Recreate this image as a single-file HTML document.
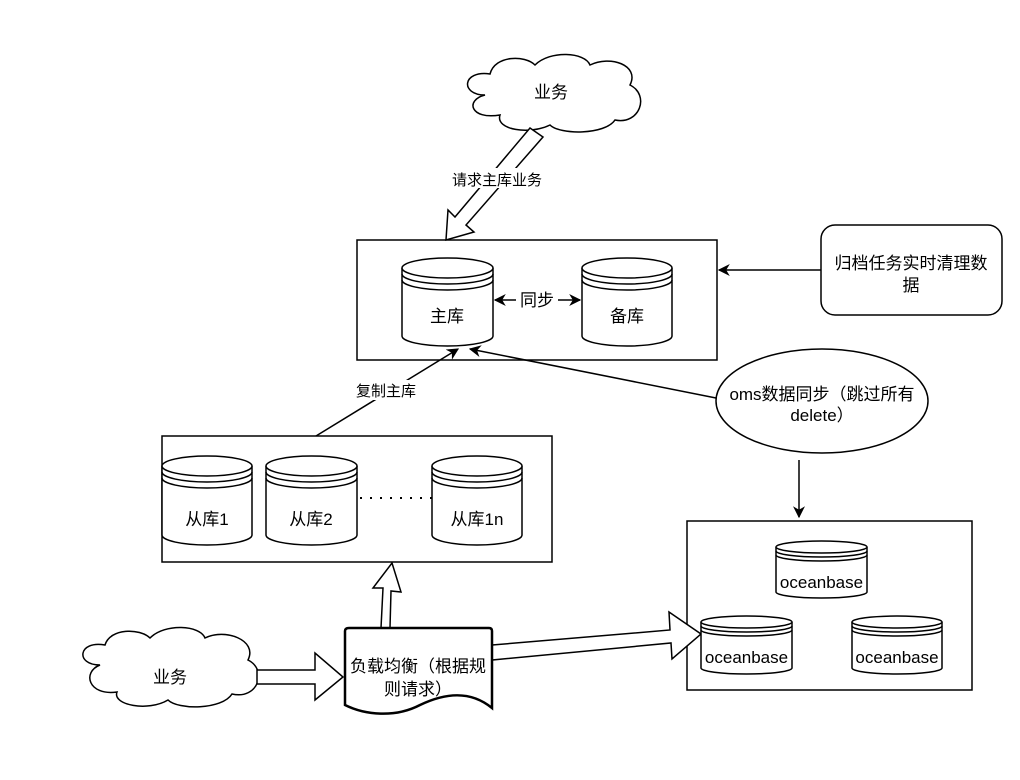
<!DOCTYPE html>
<html><head><meta charset="utf-8"><style>
html,body{margin:0;padding:0;background:#fff;}
svg{display:block;}
text{font-family:"Liberation Sans","Noto Sans CJK SC",sans-serif;fill:#000;}
</style></head><body>
<svg width="1020" height="780" viewBox="0 0 1020 780" xmlns="http://www.w3.org/2000/svg">
<defs>
<marker id="ah" viewBox="0 0 10 10" refX="9" refY="5" markerWidth="8" markerHeight="8" orient="auto-start-reverse"><path d="M0,0 L10,5 L0,10 L3,5 Z" fill="#000"/></marker>
</defs>
<g fill="#fff" stroke="#000" stroke-width="1.5">
<path d="M485,95 C460,95 462,70 490,74 C495,55 525,55 535,65 C550,50 585,52 590,65 C610,55 640,65 630,85 C650,95 640,125 615,120 C605,135 560,135 550,125 C530,135 495,130 500,115 C470,120 465,100 485,95 Z"/>
<path d="M100,665 C75,665 78,640 105,645 C110,628 140,628 150,638 C165,623 200,625 205,638 C225,628 258,640 248,660 C268,670 258,700 232,694 C222,710 178,710 168,700 C148,712 112,705 117,692 C88,696 82,672 100,665 Z"/>
<rect x="357" y="240" width="360" height="120"/>
<rect x="162" y="436" width="390" height="126"/>
<rect x="687" y="521" width="285" height="169"/>
<rect x="821" y="225" width="181" height="90" rx="14"/>
<ellipse cx="822" cy="401" rx="106" ry="52"/>
<path d="M530,128 L543,137 L466,225 L474,232 L446,240 L448,210 L455,217 L530,128 Z"/>
<path d="M381,628 L383,588 L373,588 L392,563 L401,592 L391,591 L390,628 Z"/>
<path d="M257,670 L315,670 L315,653 L343,677 L315,700 L315,684 L257,684 Z"/>
<path d="M492,645 L670,630 L669,612 L701,634 L672,659 L671,643 L492,660 Z"/>
<path d="M345,631 Q345,628 349,628 L489,628 Q492,628 492,631 L492,708 C470,690 445,693 420,705 C395,718 365,715 345,705 Z" stroke-width="2.5"/>
</g>
<g fill="#fff" stroke="#000" stroke-width="1.5">
<path d="M402,268 L402,336 A45.5,10 0 0 0 493,336 L493,268"/><ellipse cx="447.5" cy="268" rx="45.5" ry="10"/><path d="M402,274 A45.5,10 0 0 0 493,274 M402,280 A45.5,10 0 0 0 493,280" fill="none"/>
<path d="M582,268 L582,336 A45,10 0 0 0 672,336 L672,268"/><ellipse cx="627" cy="268" rx="45" ry="10"/><path d="M582,274 A45,10 0 0 0 672,274 M582,280 A45,10 0 0 0 672,280" fill="none"/>
<path d="M162,466 L162,535 A45,10 0 0 0 252,535 L252,466"/><ellipse cx="207" cy="466" rx="45" ry="10"/><path d="M162,472 A45,10 0 0 0 252,472 M162,478 A45,10 0 0 0 252,478" fill="none"/>
<path d="M266,466 L266,535 A45.5,10 0 0 0 357,535 L357,466"/><ellipse cx="311.5" cy="466" rx="45.5" ry="10"/><path d="M266,472 A45.5,10 0 0 0 357,472 M266,478 A45.5,10 0 0 0 357,478" fill="none"/>
<path d="M432,466 L432,535 A45,10 0 0 0 522,535 L522,466"/><ellipse cx="477" cy="466" rx="45" ry="10"/><path d="M432,472 A45,10 0 0 0 522,472 M432,478 A45,10 0 0 0 522,478" fill="none"/>
<path d="M776,547 L776,592 A45.5,6 0 0 0 867,592 L867,547"/><ellipse cx="821.5" cy="547" rx="45.5" ry="6"/><path d="M776,551 A45.5,6 0 0 0 867,551 M776,555 A45.5,6 0 0 0 867,555" fill="none"/>
<path d="M701,622 L701,668 A45.5,6 0 0 0 792,668 L792,622"/><ellipse cx="746.5" cy="622" rx="45.5" ry="6"/><path d="M701,626 A45.5,6 0 0 0 792,626 M701,630 A45.5,6 0 0 0 792,630" fill="none"/>
<path d="M852,622 L852,668 A45,6 0 0 0 942,668 L942,622"/><ellipse cx="897" cy="622" rx="45" ry="6"/><path d="M852,626 A45,6 0 0 0 942,626 M852,630 A45,6 0 0 0 942,630" fill="none"/>
</g>
<g stroke="#000" stroke-width="1.5" fill="none">
<line x1="495" y1="300" x2="580" y2="300" marker-start="url(#ah)" marker-end="url(#ah)"/>
<line x1="821" y1="270" x2="719" y2="270" marker-end="url(#ah)"/>
<line x1="316" y1="436" x2="458" y2="349" marker-end="url(#ah)"/>
<line x1="716" y1="398" x2="470" y2="349" marker-end="url(#ah)"/>
<line x1="799" y1="460" x2="799" y2="517" marker-end="url(#ah)"/>
<line x1="360" y1="498" x2="432" y2="498" stroke-dasharray="2,8" stroke-width="2"/>
</g>
<g font-size="17" text-anchor="middle">
<text x="551" y="98">业务</text>
<text x="170" y="683">业务</text>
<rect x="446" y="168" width="102" height="20" fill="#fff"/>
<text x="497" y="185" font-size="15">请求主库业务</text>
<rect x="516" y="290" width="42" height="20" fill="#fff"/>
<text x="537" y="306">同步</text>
<text x="447" y="322">主库</text>
<text x="627" y="322">备库</text>
<rect x="350" y="380" width="72" height="20" fill="#fff"/>
<text x="386" y="396" font-size="15">复制主库</text>
<text x="207" y="525">从库1</text>
<text x="311" y="525">从库2</text>
<text x="477" y="525">从库1n</text>
<text x="911" y="269">归档任务实时清理数</text>
<text x="911" y="291">据</text>
<text x="822" y="400">oms数据同步（跳过所有</text>
<text x="822" y="421">delete）</text>
<text x="418" y="672">负载均衡（根据规</text>
<text x="418" y="695">则请求）</text>
<text x="821.5" y="588">oceanbase</text>
<text x="746.5" y="663">oceanbase</text>
<text x="897" y="663">oceanbase</text>
</g>
</svg>
</body></html>
